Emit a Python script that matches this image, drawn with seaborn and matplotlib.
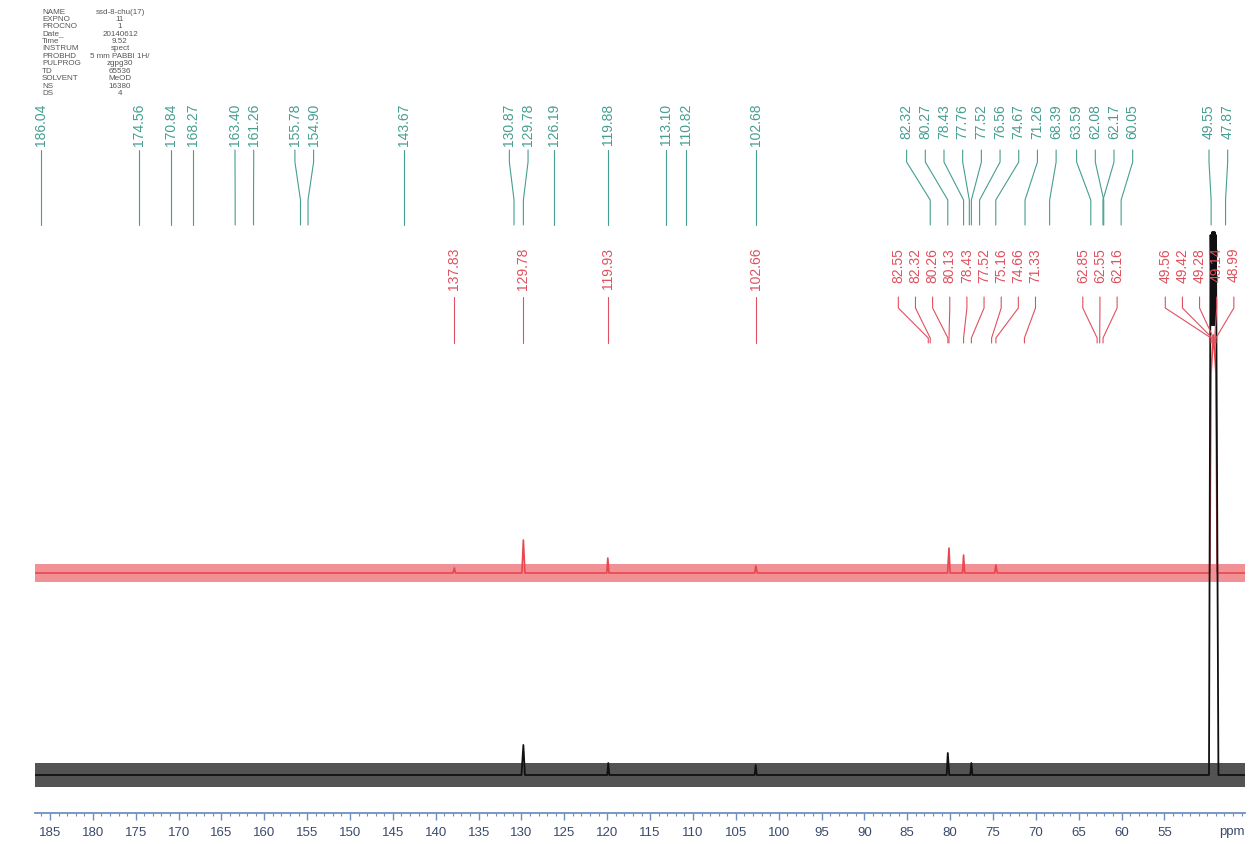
import numpy as np
import pandas as pd
import seaborn as sns
import matplotlib.pyplot as plt
from matplotlib.ticker import MultipleLocator, FixedLocator

# ---- values ----
green_labels = ["186.04", "174.56", "170.84", "168.27", "163.40", "161.26", "155.78", "154.90",
                "143.67", "130.87", "129.78", "126.19", "119.88", "113.10", "110.82", "102.68",
                "82.32", "80.27", "78.43", "77.76", "77.52", "76.56", "74.67", "71.26", "68.39",
                "63.59", "62.08", "62.17", "60.05", "49.55", "47.87"]
red_labels = ["137.83", "129.78", "119.93", "102.66",
              "82.55", "82.32", "80.26", "80.13", "78.43", "77.52", "75.16", "74.66", "71.33",
              "62.85", "62.55", "62.16",
              "49.56", "49.42", "49.28", "49.14", "48.99"]

# lower (black) trace: ppm / intensity above its own baseline
black_ppm = [186.7, 130.0, 129.78, 129.6, 120.0, 119.88, 119.75, 102.8, 102.68, 102.55,
             80.4, 80.27, 80.1, 77.65, 77.52, 77.4,
             49.8, 49.62, 49.5, 49.42, 49.35, 49.28, 49.21, 49.14, 49.07, 48.99, 48.7, 45.6]
black_int = [0, 0, 30, 0, 0, 12, 0, 0, 10, 0,
             0, 22, 0, 0, 12, 0,
             0, 540, 450, 543, 450, 543, 450, 543, 450, 540, 0, 0]
# upper (red) trace
red_ppm = [186.7, 138.0, 137.83, 137.7, 129.95, 129.78, 129.6, 120.05, 119.93, 119.8,
           102.8, 102.66, 102.5, 80.3, 80.13, 80.0, 78.55, 78.43, 78.3, 74.8, 74.66, 74.5,
           49.7, 49.56, 49.42, 49.28, 49.14, 48.99, 48.85, 45.6]
red_int = [0, 0, 5, 0, 0, 33, 0, 0, 15, 0,
           0, 7, 0, 0, 25, 0, 0, 18, 0, 0, 8, 0,
           0, 200, 220, 238, 220, 200, 0, 0]
black_noise = 12
red_noise = 9
red_offset = 240
black_offset = 38

params = [("NAME", "ssd-8-chu(17)"), ("EXPNO", "11"), ("PROCNO", "1"), ("Date_", "20140612"),
          ("Time", "9.52"), ("INSTRUM", "spect"), ("PROBHD", "5 mm PABBI 1H/"),
          ("PULPROG", "zgpg30"), ("TD", "65536"), ("SOLVENT", "MeOD"), ("NS", "16380"),
          ("DS", "4")]

ticks = list(range(55, 186, 5))

GREEN = "#469e90"
RED_TXT = "#e0505e"
RED = "#e8474f"
AXIS = "#6f8fbf"

sns.set_style("white")
plt.rcParams["font.family"] = ["Liberation Sans", "DejaVu Sans"]

W, H = 1249, 844
fig = plt.figure(figsize=(W / 100, H / 100), dpi=100)
axis_px = 813
ax = fig.add_axes([35 / W, (H - axis_px) / H, 1210 / W, axis_px / H])
ax.set_xlim(186.75, 45.6)
ax.set_ylim(0, axis_px)


def Y(px):
    # vertical position given as pixels from the top of the image
    return axis_px - px


# spectra
bdf = pd.DataFrame({"ppm": black_ppm, "I": np.array(black_int) + black_offset})
rdf = pd.DataFrame({"ppm": red_ppm, "I": np.array(red_int) + red_offset})
ax.fill_between([186.7, 45.6], black_offset - black_noise, black_offset + black_noise,
                color="#111111", alpha=0.72, lw=0)
ax.fill_between([186.7, 45.6], red_offset - red_noise, red_offset + red_noise,
                color=RED, alpha=0.6, lw=0)
sns.lineplot(data=rdf, x="ppm", y="I", ax=ax, color=RED, lw=1.2, estimator=None, sort=False)
sns.lineplot(data=bdf, x="ppm", y="I", ax=ax, color="#111111", lw=1.3, estimator=None, sort=False)


def spread(peaks, gap, lo):
    # place labels left->right (decreasing ppm) at least `gap` ppm apart
    clusters = []
    for p in peaks:
        clusters.append([p])
        while len(clusters) > 1:
            a, b = clusters[-2], clusters[-1]
            la = np.mean([v + k * gap for k, v in enumerate(a)])
            lb = np.mean([v + k * gap for k, v in enumerate(b)])
            if la - len(a) * gap < lb:
                clusters[-2:] = [a + b]
            else:
                break
    out = []
    for c in clusters:
        l0 = np.mean([v + k * gap for k, v in enumerate(c)])
        out += [l0 - k * gap for k in range(len(c))]
    out[-1] = max(out[-1], lo)
    for i in range(len(out) - 2, -1, -1):
        out[i] = max(out[i], out[i + 1] + gap)
    return out


def draw_labels(labels, color, gap, lo, ytop, ybot, y1, y2, y3):
    peaks = [float(s) for s in labels]
    pos = spread(peaks, gap, lo)
    for s, p, q in zip(labels, peaks, pos):
        ax.text(q, Y(ytop), s, rotation=90, ha="center", va="top", color=color, fontsize=10)
        ax.plot([q, q, p, p], [Y(ybot), Y(y1), Y(y2), Y(y3)], color=color, lw=0.8)


draw_labels(green_labels, GREEN, 2.18, 47.3, 104, 150, 162, 200, 225)
draw_labels(red_labels, RED_TXT, 2.0, 46.9, 248, 297, 308, 338, 343)

# x axis
for side in ["top", "left", "right"]:
    ax.spines[side].set_visible(False)
ax.spines["bottom"].set_color(AXIS)
ax.spines["bottom"].set_linewidth(1.3)
ax.xaxis.set_major_locator(FixedLocator(ticks))
ax.xaxis.set_minor_locator(MultipleLocator(1))
ax.tick_params(axis="x", which="major", direction="out", length=5, width=1, color=AXIS,
               labelsize=9.5, labelcolor="#3b4a6b", pad=5, bottom=True)
ax.tick_params(axis="x", which="minor", direction="out", length=2.5, width=0.8, color=AXIS,
               bottom=True)
ax.set_yticks([])
ax.set_xlabel("")
ax.set_ylabel("")
ax.text(47.1, -19, "ppm", ha="center", va="center", color="#3b4a6b", fontsize=9.5, clip_on=False)

# acquisition parameters block
for i, (k, v) in enumerate(params):
    yf = 1 - (12 + i * 7.4) / H
    fig.text(42 / W, yf, k, fontsize=5.8, color="#555555", va="center", ha="left")
    fig.text(120 / W, yf, v, fontsize=5.8, color="#555555", va="center", ha="center")

fig.savefig("out.png", dpi=100, facecolor="white")
